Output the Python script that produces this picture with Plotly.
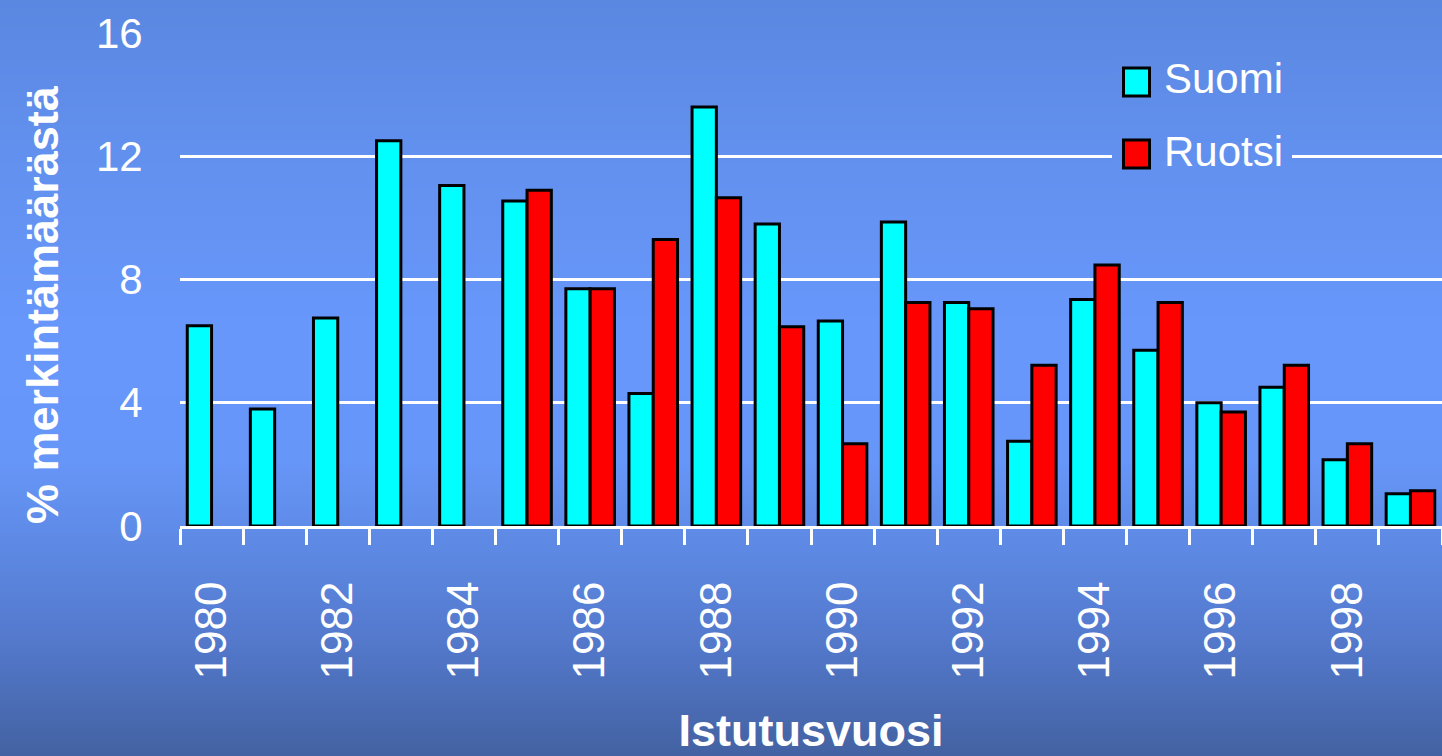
import plotly.graph_objects as go

# ---------------- data ----------------
years = list(range(1980, 2000))
suomi = [6.5, 3.8, 6.75, 12.5, 11.05, 10.55, 7.7, 4.3, 13.6, 9.8, 6.65, 9.87, 7.25, 2.75,
         7.35, 5.7, 4.0, 4.5, 2.15, 1.05]
ruotsi = [None, None, None, None, None, 10.9, 7.7, 9.3, 10.65, 6.47, 2.67, 7.25, 7.05, 5.22,
          8.47, 7.25, 3.7, 5.22, 2.67, 1.14]
tick_years = list(range(1980, 2000, 2))
series_names = ["Suomi", "Ruotsi"]
series_colors = ["#00ffff", "#ff0000"]
y_title = "% merkintämäärästä"
x_title = "Istutusvuosi"

# ---------------- layout geometry (px) ----------------
W, H = 1442, 756
ML, MR, MT, MB = 180, 0, 33, 230
PW, PH = W - ML - MR, H - MT - MB

def px_x(px):
    return (px - ML) / PW

def px_y(py):
    return (H - MB - py) / PH

FONT = "Liberation Sans, Arial, sans-serif"

# background gradient stops (pixel y, rgb)
stops = [(0, (90, 135, 224)), (150, (98, 144, 238)), (330, (103, 151, 251)),
         (460, (102, 150, 248)), (540, (94, 138, 230)), (640, (84, 121, 204)),
         (756, (67, 98, 162))]

def grad(py):
    for (y0, c0), (y1, c1) in zip(stops[:-1], stops[1:]):
        if y0 <= py <= y1:
            t = (py - y0) / (y1 - y0)
            return "rgb(%d,%d,%d)" % tuple(round(a + (b - a) * t) for a, b in zip(c0, c1))
    return "rgb(%d,%d,%d)" % stops[-1][1]

shapes = []
step = 4
for py in range(0, H, step):
    shapes.append(dict(type="rect", xref="paper", yref="paper", layer="below",
                       x0=px_x(0), x1=px_x(W), y0=px_y(py + step), y1=px_y(py),
                       fillcolor=grad(py + step / 2), line=dict(width=0)))

# legend background (covers gridlines)
LX0, LX1, LY0, LY1 = 1112, 1292, 45, 185
for py in range(LY0, LY1, step):
    shapes.append(dict(type="rect", xref="paper", yref="paper", layer="above",
                       x0=px_x(LX0), x1=px_x(LX1), y0=px_y(py + step), y1=px_y(py),
                       fillcolor=grad(py + step / 2), line=dict(width=0)))

annotations = []
legend_rows = [82, 154]
for name, color, cy in zip(series_names, series_colors, legend_rows):
    shapes.append(dict(type="rect", xref="paper", yref="paper", layer="above",
                       x0=px_x(1123.5), x1=px_x(1149.5), y0=px_y(cy + 14), y1=px_y(cy - 14),
                       fillcolor=color, line=dict(color="black", width=3)))
    annotations.append(dict(xref="paper", yref="paper", x=px_x(1162), y=px_y(cy - 3),
                            text=name, showarrow=False, xanchor="left", yanchor="middle",
                            font=dict(family=FONT, size=42, color="white")))

# y-axis title
annotations.append(dict(xref="paper", yref="paper", x=px_x(42), y=px_y(305),
                        text="<b>%s</b>" % y_title, textangle=-90, showarrow=False,
                        xanchor="center", yanchor="middle",
                        font=dict(family=FONT, size=45, color="white")))

fig = go.Figure()
for name, color, vals in zip(series_names, series_colors, [suomi, ruotsi]):
    fig.add_trace(go.Bar(x=years, y=vals, name=name,
                         marker=dict(color=color, line=dict(color="black", width=3))))

fig.update_layout(
    width=W, height=H,
    margin=dict(l=ML, r=MR, t=MT, b=MB, pad=0, autoexpand=False),
    paper_bgcolor="rgb(80,118,200)",
    plot_bgcolor="rgba(0,0,0,0)",
    barmode="group", bargap=0.23, bargroupgap=0,
    showlegend=False,
    shapes=shapes, annotations=annotations,
    font=dict(family=FONT, color="white"),
    xaxis=dict(range=[1979.5, 1999.5], tickmode="array", tickvals=tick_years,
               ticktext=[str(y) for y in tick_years], tickangle=-90,
               ticks="", ticklabelstandoff=35, automargin=False,
               tickfont=dict(family=FONT, size=44, color="white"),
               showgrid=False, zeroline=False,
               showline=True, linecolor="white", linewidth=3,
               minor=dict(ticks="outside", tick0=1979.5, dtick=1, ticklen=16,
                          tickwidth=3, tickcolor="white", showgrid=False),
               title=dict(text="<b>%s</b>" % x_title, standoff=62,
                          font=dict(family=FONT, size=45, color="white"))),
    yaxis=dict(range=[0, 16], tickmode="array", tickvals=[0, 4, 8, 12, 16],
               ticks="outside", ticklen=28, tickcolor="rgba(0,0,0,0)", automargin=False,
               tickfont=dict(family=FONT, size=42, color="white"),
               showgrid=True, gridcolor="white", gridwidth=3,
               zeroline=False, showline=False),
)

fig.write_html("out.html", config={"displayModeBar": False},
               post_script="document.body.style.margin='0';")
